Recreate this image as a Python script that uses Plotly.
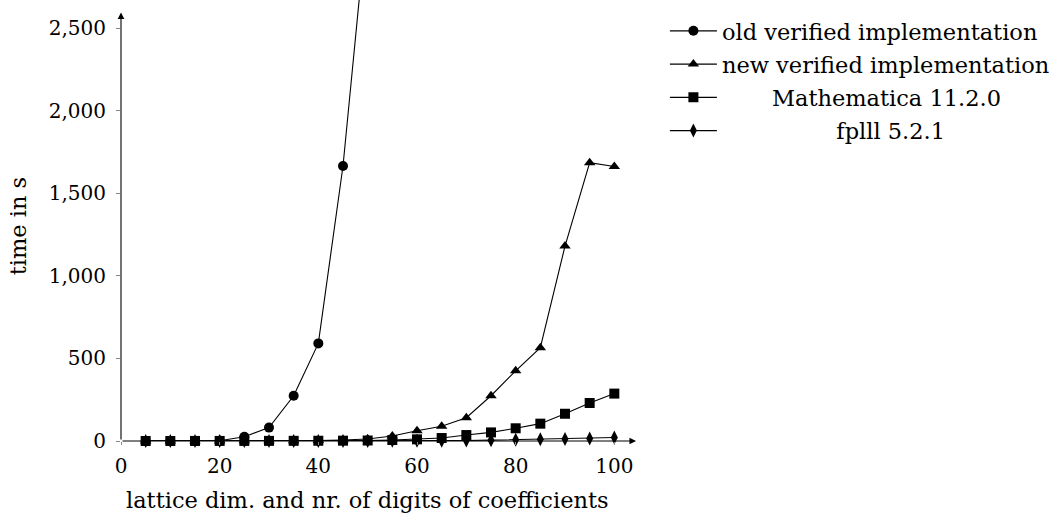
import plotly.graph_objects as go

x_old = [5, 10, 15, 20, 25, 30, 35, 40, 45, 50]
y_old = [0.1, 0.2, 0.5, 2, 26, 81, 274, 591, 1665, 3200]

x_new = [5, 10, 15, 20, 25, 30, 35, 40, 45, 50, 55, 60, 65, 70, 75, 80, 85, 90, 95, 100]
y_new = [0.1, 0.2, 0.3, 0.5, 0.8, 1.2, 2, 3, 6, 12, 30, 62, 89, 141, 274, 425, 565, 1180, 1685, 1662]

x_math = [5, 10, 15, 20, 25, 30, 35, 40, 45, 50, 55, 60, 65, 70, 75, 80, 85, 90, 95, 100]
y_math = [0.1, 0.2, 0.3, 0.4, 0.5, 0.7, 1, 1.5, 2, 3, 6, 10, 18, 36, 52, 77, 105, 165, 230, 287]

x_fplll = [5, 10, 15, 20, 25, 30, 35, 40, 45, 50, 55, 60, 65, 70, 75, 80, 85, 90, 95, 100]
y_fplll = [0.01, 0.01, 0.02, 0.03, 0.05, 0.08, 0.1, 0.2, 0.3, 0.5, 0.8, 1, 2, 3, 5, 8, 10, 12, 15, 21]

names = ["old verified implementation",
         "new verified implementation",
         "\u00a0" * 7 + "Mathematica 11.2.0",
         "\u00a0" * 16 + "fplll 5.2.1"]

FONT = "DejaVu Serif"
fs_tick = 20
fs_text = 22.5

fig = go.Figure()
series = [
    (x_old, y_old, "circle", 10),
    (x_new, y_new, "triangle-up", 10),
    (x_math, y_math, "square", 10),
    (x_fplll, y_fplll, "diamond-tall", 10),
]
for i, ((xs, ys, sym, sz), nm) in enumerate(zip(series, names)):
    fig.add_trace(go.Scatter(
        x=xs, y=ys, name=nm, mode="lines+markers", legendgroup=f"g{i}",
        line=dict(color="black", width=1.1),
        marker=dict(symbol=sym, size=sz, color="black"),
        cliponaxis=False,
    ))

# axis arrows
fig.add_annotation(x=104.4, y=0, ax=0, ay=0, xref="x", yref="y", axref="x", ayref="y",
                   text="", showarrow=True, arrowhead=2, arrowsize=1.2, arrowwidth=1.1,
                   arrowcolor="black", standoff=0, startstandoff=0)
fig.add_annotation(x=0, y=2595, ax=0, ay=0, xref="x", yref="y", axref="x", ayref="y",
                   text="", showarrow=True, arrowhead=2, arrowsize=1.2, arrowwidth=1.1,
                   arrowcolor="black", standoff=0, startstandoff=0)

# axis titles
fig.add_annotation(x=50, y=0, xref="x", yref="y", yshift=-59, yanchor="middle",
                   text="lattice dim. and nr. of digits of coefficients", showarrow=False,
                   font=dict(family=FONT, size=fs_text, color="black"))
fig.add_annotation(x=0, y=1300, xref="paper", yref="y", xshift=-103, xanchor="center",
                   yanchor="middle",
                   text="time in s", textangle=-90, showarrow=False,
                   font=dict(family=FONT, size=fs_text, color="black"))

fig.update_layout(
    width=1055, height=514,
    margin=dict(l=121, r=413, t=0, b=73, pad=0),
    plot_bgcolor="white", paper_bgcolor="white",
    font=dict(family=FONT, size=fs_tick, color="black"),
    showlegend=True,
    legend=dict(x=1.05, y=0.978, xanchor="left", yanchor="top",
                font=dict(family=FONT, size=fs_text, color="black"),
                bgcolor="rgba(0,0,0,0)", tracegroupgap=1, itemwidth=47),
    xaxis=dict(range=[0, 105], tickvals=[0, 20, 40, 60, 80, 100],
               showgrid=False, zeroline=False, showline=False,
               ticks="outside", ticklen=3, tickcolor="#888", tickwidth=1,
               ticklabelstandoff=4),
    yaxis=dict(range=[0, 2670], tickvals=[0, 500, 1000, 1500, 2000, 2500],
               tickformat=",", showgrid=False, zeroline=False, showline=False,
               ticks="outside", ticklen=4, tickcolor="#888", tickwidth=1,
               ticklabelstandoff=6),
)

fig.write_html("out.html", config={"displayModeBar": False},
               post_script="document.body.style.margin='0';document.body.style.overflow='hidden';")
